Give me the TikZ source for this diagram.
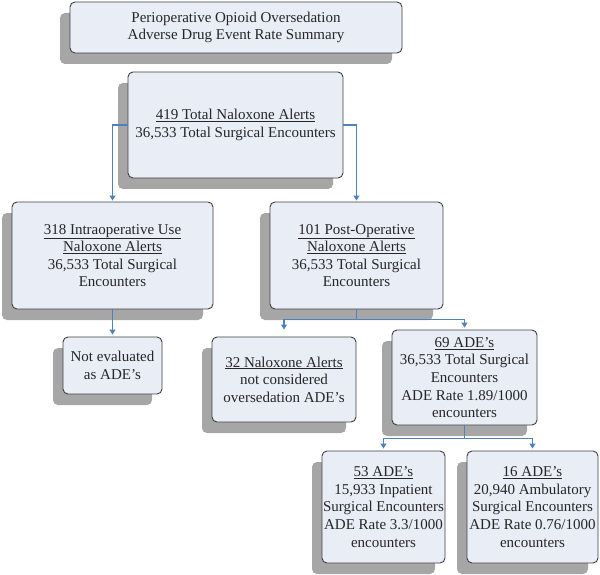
\documentclass[tikz,border=0pt]{standalone}
\usepackage{fontspec}
\setmainfont{Liberation Serif}
\usetikzlibrary{shadows,arrows.meta}
\definecolor{boxfill}{RGB}{233,237,246}
\definecolor{shadowgray}{RGB}{166,166,166}
\definecolor{connblue}{RGB}{79,129,189}
\definecolor{edgegray}{RGB}{64,64,64}
\tikzset{
  box/.style={draw=edgegray, line width=0.9pt, rounded corners=5pt, fill=boxfill,
    align=center, inner sep=0pt, text=black!85,
    font=\fontsize{15pt}{17.6pt}\selectfont,
    drop shadow={shadow xshift=-10pt, shadow yshift=-11pt, fill=shadowgray, opacity=1}},
  conn/.style={draw=connblue, line width=1.1pt, -{Triangle[width=6pt,length=5pt]}},
  connline/.style={draw=connblue, line width=1.1pt}
}
\begin{document}
\begin{tikzpicture}[x=1pt,y=-1pt]
\useasboundingbox (0,0) rectangle (600,575);
\node[box, minimum width=332pt, minimum height=51pt] (title) at (236,27.5)
  {Perioperative Opioid Oversedation\\Adverse Drug Event Rate Summary};
\node[box, minimum width=215pt, minimum height=106pt] (total) at (235.5,125)
  {\underline{419 Total Naloxone Alerts}\\36,533 Total Surgical Encounters};
\node[box, minimum width=201pt, minimum height=107pt] (intra) at (112.5,255.5)
  {\underline{318 Intraoperative Use}\\\underline{Naloxone Alerts}\\36,533 Total Surgical\\Encounters};
\node[box, minimum width=173pt, minimum height=107pt] (post) at (356.5,255.5)
  {\underline{101 Post-Operative}\\\underline{Naloxone Alerts}\\36,533 Total Surgical\\Encounters};
\node[box, minimum width=99pt, minimum height=57pt] (noteval) at (112.5,365.5)
  {Not evaluated\\as ADE’s};
\node[box, minimum width=144pt, minimum height=85pt] (notcons) at (284,379.5)
  {\underline{32 Naloxone Alerts}\\not considered\\oversedation ADE’s};
\node[box, minimum width=145pt, minimum height=95pt] (ade69) at (464.5,377.5)
  {\underline{69 ADE’s}\\36,533 Total Surgical\\Encounters\\ADE Rate 1.89/1000\\encounters};
\node[box, minimum width=123pt, minimum height=112pt] (ade53) at (383.5,507)
  {\underline{53 ADE’s}\\15,933 Inpatient\\Surgical Encounters\\ADE Rate 3.3/1000\\encounters};
\node[box, minimum width=131pt, minimum height=112pt] (ade16) at (532.5,507)
  {\underline{16 ADE’s}\\20,940 Ambulatory\\Surgical Encounters\\ADE Rate 0.76/1000\\encounters};

\draw[conn, shorten >=1pt] (total.west) -| (intra.north);
\draw[conn, shorten >=1pt] (total.east) -| (post.north);
\draw[conn, shorten >=2pt] (intra.south) -- (noteval.north);
\coordinate (pj) at ([yshift=-10pt]post.south);
\draw[connline] (post.south) -- (pj);
\draw[conn, shorten >=7pt] (pj) -| (notcons.north);
\draw[conn, shorten >=2pt] (pj) -| (ade69.north);
\coordinate (aj) at ([yshift=-13pt]ade69.south);
\draw[connline] (ade69.south) -- (aj);
\draw[conn, shorten >=2pt] (aj) -| (ade53.north);
\draw[conn, shorten >=2pt] (aj) -| (ade16.north);
\end{tikzpicture}
\end{document}
